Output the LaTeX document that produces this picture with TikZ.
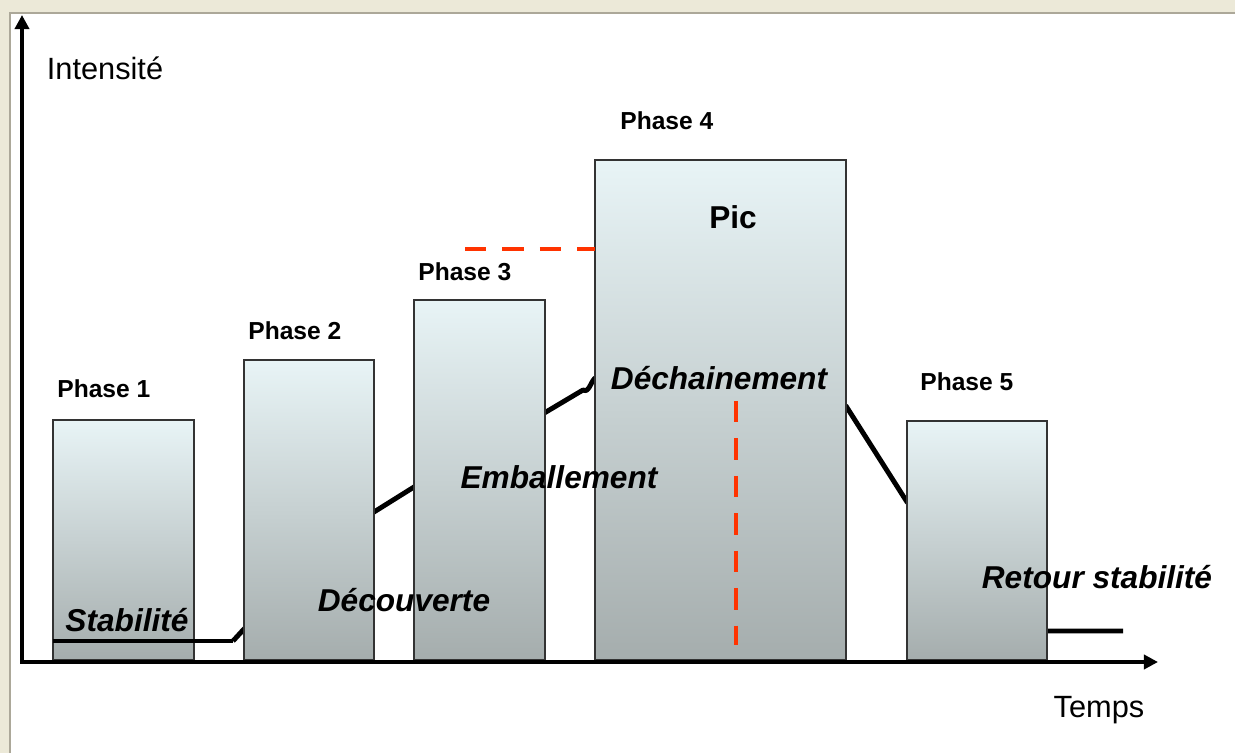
\documentclass[tikz,border=0pt]{standalone}
\usepackage{fontspec}
\setmainfont{Liberation Sans}
\usetikzlibrary{arrows.meta, positioning}
\definecolor{frameback}{RGB}{236,233,216}
\definecolor{frameline}{RGB}{172,168,153}
\definecolor{bartop}{RGB}{232,244,246}
\definecolor{barmid}{RGB}{206,216,217}
\definecolor{barbot}{RGB}{165,173,173}
\definecolor{peak}{RGB}{255,51,0}
\tikzstyle{bar} = [draw=black!80, line width=0.8pt, inner sep=0pt, outer sep=0pt,
                   anchor=south west, top color=bartop, middle color=barmid, bottom color=barbot]
\tikzstyle{phase} = [inner sep=0pt, font=\fontsize{14}{16}\selectfont\bfseries]
\tikzstyle{stage} = [inner sep=0pt, font=\fontsize{18}{21}\selectfont\bfseries\itshape]
\tikzstyle{axislabel} = [inner sep=0pt, font=\fontsize{17.5}{20}\selectfont]
\tikzstyle{axis} = [line width=2pt, -{Triangle[length=8pt, width=8pt]}]
\tikzstyle{trend} = [line width=2.8pt, line join=round]
\tikzstyle{marker} = [peak, line width=2.8pt, dash pattern=on 12.2pt off 9.1pt]

\begin{document}
\begin{tikzpicture}
    [x=0.02cm, y=-0.02cm]

    %% Frame
    \useasboundingbox (0,0) rectangle (1235,753);
    \fill [frameback] (0,0) rectangle (1235,753);
    \fill [white] (10,13) rectangle (1235,753);
    \draw [frameline, line width=1pt] (10,753) |- (1235,13);

    %% Trend (behind the bars)
    \coordinate (calm) at (233,641);
    \draw [trend] (calm) -- (244,629) -- (374,512) -- (414,487)
        -- (546,412) -- (583,390) to[out=-30, in=-135] (595,378) -- (846,406)
        -- (907,502) -- (1047,631) -- (1123,631);

    %% Phases
    \node [bar, minimum width=2.82cm, minimum height=4.8cm] (p1) at (53,660) {};
    \node [bar, minimum width=2.6cm, minimum height=6cm] (p2) at (244,660) {};
    \node [bar, minimum width=2.62cm, minimum height=7.2cm] (p3) at (414,660) {};
    \node [bar, minimum width=5.02cm, minimum height=10cm] (p4) at (595,660) {};
    \node [bar, minimum width=2.8cm, minimum height=4.78cm] (p5) at (907,660) {};

    %% Trend over the first phase
    \draw [trend] (p1.west |- calm) -- (calm);

    %% Peak markers
    \coordinate (peakleft) at (465,249);
    \coordinate (peakbottom) at (736,645);
    \draw [marker] (peakleft) -- (p4.west |- peakleft);
    \draw [marker] (736,401) -- (peakbottom);

    %% Axes
    \coordinate (origin) at (22,662);
    \draw [axis] (origin) -- (22,15);
    \draw [axis] (20,662) -- (1158,662);

    %% Labels
    \node [phase, above right=0.44cm and 0.08cm of p1.north west] (l1) {Phase 1};
    \node [phase, above right=0.4cm and 0.08cm of p2.north west] (l2) {Phase 2};
    \node [phase, above right=0.38cm and 0.08cm of p3.north west] (l3) {Phase 3};
    \node [phase, above right=0.6cm and 0.5cm of p4.north west] (l4) {Phase 4};
    \node [phase, above right=0.6cm and 0.26cm of p5.north west] (l5) {Phase 5};

    \node [stage] (stab) at (127,620) {Stabilité};
    \node [stage] (decouv) at (404,600) {Découverte};
    \node [stage] (emball) at (559,477) {Emballement};
    \node [stage] (dechain) at (719,378) {Déchainement};
    \node [stage, font=\fontsize{18}{21}\selectfont\bfseries] (pic) at (733,217) {Pic};
    \node [stage] (retour) at (1097,577) {Retour stabilité};

    \node [axislabel] (intens) at (105,68) {Intensité};
    \node [axislabel] (temps) at (1099,710) {Temps};

\end{tikzpicture}
\end{document}
